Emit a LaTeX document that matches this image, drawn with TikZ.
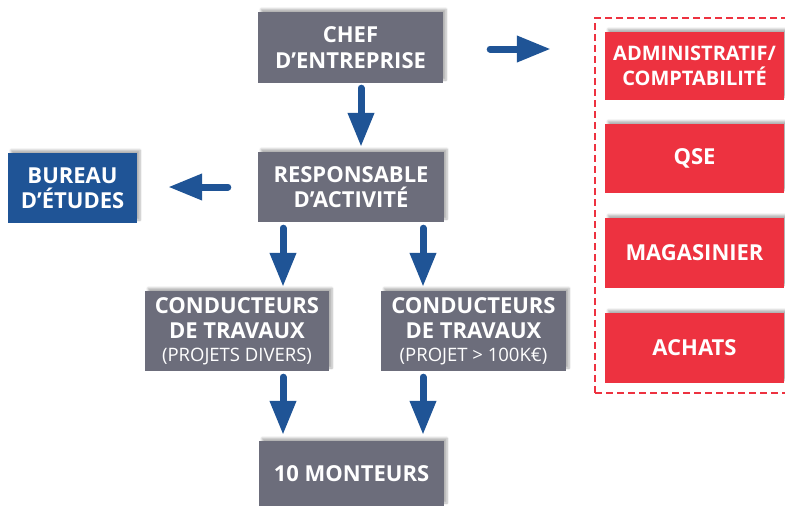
\documentclass[tikz,border=0pt]{standalone}
\usepackage{fontspec}
\setmainfont{Open Sans}
\usetikzlibrary{arrows.meta,shadows.blur,calc}
\definecolor{boxgray}{RGB}{108,109,123}
\definecolor{arrowblue}{RGB}{31,84,150}
\definecolor{boxred}{RGB}{237,50,64}
\newcommand{\subtxt}{\mdseries\fontsize{18.5}{21}\selectfont}
\begin{document}
\begin{tikzpicture}[x=1pt,y=-1pt,
  box/.style={rectangle, inner sep=0pt, text=white, align=center,
    font=\bfseries\fontsize{22}{25.5}\selectfont,
    blur shadow={shadow xshift=3pt, shadow yshift=3pt, shadow blur steps=6, shadow opacity=30}},
  graybox/.style={box, fill=boxgray},
  bluebox/.style={box, fill=arrowblue},
  redbox/.style={box, fill=boxred, minimum width=179pt},
  bigarrow/.style={draw=arrowblue, line width=7pt, line cap=round,
    -{Triangle[length=34pt,width=25pt]}},
  frame/.style={draw=boxred, dashed, dash pattern=on 7pt off 4pt, line width=2.5pt,
    rectangle, inner sep=0pt}
]
\useasboundingbox (0,0) rectangle (785,507);
\path[clip] (0,0) rectangle (785,507);

\node[frame, minimum width=195pt, minimum height=375pt] (frame) at (692.5,205.5) {};

\node[graybox, minimum width=185pt, minimum height=71pt] (chef) at (350.5,47.5) {CHEF\\D’ENTREPRISE};
\node[graybox, minimum width=186pt, minimum height=70pt] (resp) at (351,187) {RESPONSABLE\\D’ACTIVITÉ};
\node[bluebox, minimum width=129pt, minimum height=70pt] (bureau) at (72.5,188) {BUREAU\\D’ÉTUDES};
\node[graybox, minimum width=184pt, minimum height=80pt] (cl) at (237,331)
  {CONDUCTEURS\\DE TRAVAUX\\[-3pt]{\subtxt(PROJETS DIVERS)}};
\node[graybox, minimum width=185pt, minimum height=80pt] (cr) at (473.5,331)
  {CONDUCTEURS\\DE TRAVAUX\\[-3pt]{\subtxt(PROJET > 100K€)}};
\node[graybox, minimum width=185pt, minimum height=65pt] (mont) at (351.5,473.5) {10 MONTEURS};

\node[redbox, minimum height=68pt, font=\bfseries\fontsize{20}{25.5}\selectfont] (admin) at (694.5,66) {ADMINISTRATIF/\\COMPTABILITÉ};
\node[redbox, minimum height=69pt] (qse) at (694.5,158.5) {QSE};
\node[redbox, minimum height=70pt] (mag) at (694.5,253) {MAGASINIER};
\node[redbox, minimum height=70pt] (achats) at (694.5,348) {ACHATS};

\coordinate (c1) at (361,0);
\coordinate (cL) at (283,0);
\coordinate (cR) at (423,0);
\coordinate (rowA) at (0,49);
\coordinate (rowB) at (0,187);

\draw[bigarrow, shorten <=5pt, shorten >=5pt] (chef.south -| c1) -- (resp.north -| c1);
\draw[bigarrow, shorten <=30pt, shorten >=31pt] (resp.west |- rowB) -- (bureau.east |- rowB);
\draw[bigarrow, shorten <=47pt, shorten >=43pt] (chef.east |- rowA) -- (frame.west |- rowA);
\draw[bigarrow, shorten <=6pt, shorten >=4pt] (resp.south -| cL) -- (cl.north -| cL);
\draw[bigarrow, shorten <=6pt, shorten >=4pt] (resp.south -| cR) -- (cr.north -| cR);
\draw[bigarrow, shorten <=6pt, shorten >=6pt] (cl.south -| cL) -- (mont.north -| cL);
\draw[bigarrow, shorten <=6pt, shorten >=6pt] (cr.south -| cR) -- (mont.north -| cR);
\end{tikzpicture}
\end{document}
